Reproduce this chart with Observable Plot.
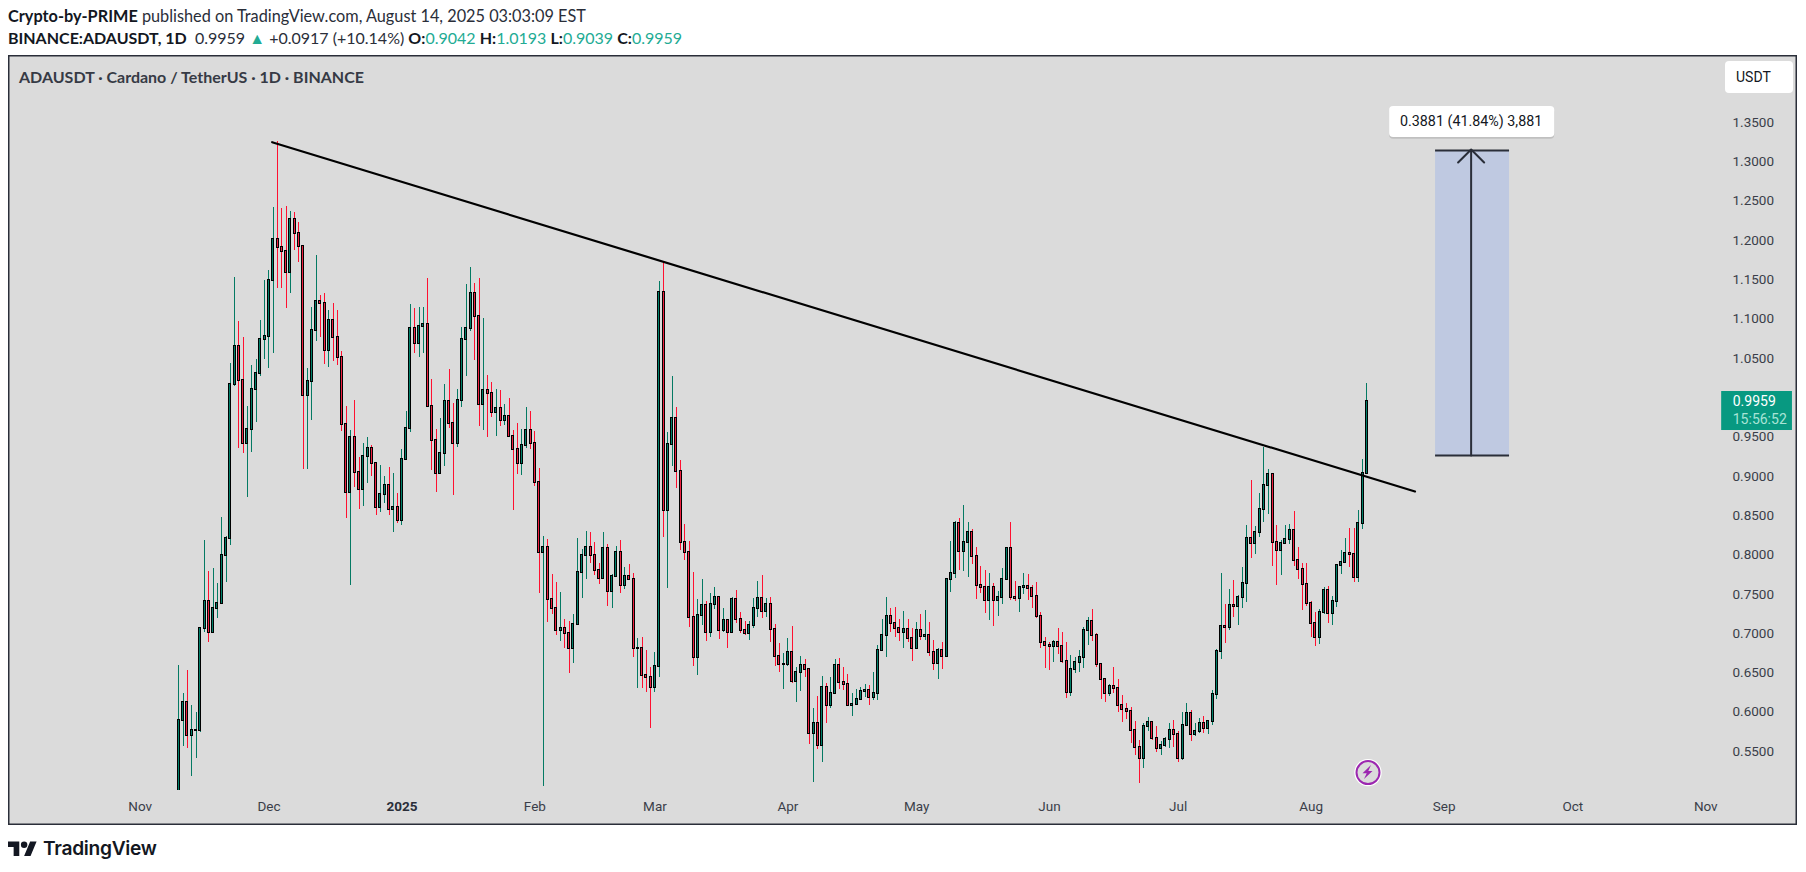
<!DOCTYPE html>
<html>
<head>
<meta charset="utf-8">
<script src="https://cdn.jsdelivr.net/npm/d3@7"></script>
<script src="https://cdn.jsdelivr.net/npm/@observablehq/plot@0.6"></script>
<style>
  html, body { margin: 0; background: #fff; }
  #page { position: relative; width: 1806px; height: 872px; overflow: hidden; font-family: Lato, sans-serif; color: #2a2e39; }
  .line { position: absolute; left: 8px; white-space: pre; line-height: 20px; }
  .line b { color: #131722; font-weight: 700; }
  .teal { color: #22ab94; }
  #pane { position: absolute; left: 8px; top: 55px; width: 1789px; height: 770px; background: #dbdbdb; box-shadow: inset 0 0 0 1.5px #2a2e39; }
  #pane svg { display: block; }
  #paneTitle { position: absolute; left: 11px; top: 12px; font-size: 16px; font-weight: 700; color: #363a45; white-space: pre; line-height: 20px; }
  #unit { position: absolute; left: 1717px; top: 6px; width: 68px; height: 32px; background: #fff; border-radius: 4px; font: 14px/32px Roboto, sans-serif; color: #131722; text-indent: 11px; }
  #logo { position: absolute; left: 8px; top: 838px; }
  #logoText { position: absolute; left: 43px; top: 834px; font: 600 19.2px/28px Inter, sans-serif; color: #131722; letter-spacing: -0.3px; }
</style>
</head>
<body>
<div id="page">
  <div class="line" style="top:6px;font-size:16.3px"><b>Crypto-by-PRIME</b> published on TradingView.com, August 14, 2025 03:03:09 EST</div>
  <div class="line" style="top:28px;font-size:16px"><b>BINANCE:ADAUSDT, 1D</b>  0.9959 <span class="teal">▲</span> +0.0917 (+10.14%) <b>O:</b><span class="teal">0.9042</span> <b>H:</b><span class="teal">1.0193</span> <b>L:</b><span class="teal">0.9039</span> <b>C:</b><span class="teal">0.9959</span></div>
  <div id="pane">
    <div id="paneTitle">ADAUSDT · Cardano / TetherUS · 1D · BINANCE</div>
    <div id="unit">USDT</div>
  </div>
  <svg id="logo" width="29" height="23" viewBox="0 0 36 28" fill="#131722"><path d="M14 22H7V11H0V4h14v18zM28 22h-8l7.5-18h8L28 22z"></path><circle cx="20" cy="8" r="4"></circle></svg>
  <div id="logoText">TradingView</div>
</div>
<script>
// velas diarias, desde el 10 nov 2024 hasta el 14 ago 2025
const firstDay = new Date(Date.UTC(2024, 10, 10))
const firstOpen = 0.495

const closes = [
  .5898,.6127,.5707,.5779,.5780,.7068,.7411,.7017,.7322,.7386,
  .7997,.8213,1.0172,1.0655,1.0223,.9430,.9599,1.0108,1.0312,1.0744,
  1.0782,1.1495,1.2016,1.1914,1.1863,1.1596,1.2270,1.2092,1.1927,1.0032,
  1.0210,1.0859,1.1227,1.1202,1.0604,1.0986,1.0770,1.0515,.9667,.8798,
  .9498,.9052,.8836,.9256,.9358,.9167,.8607,.8772,.8887,.8582,
  .8607,.8442,.9218,.9612,1.0884,1.0702,1.0909,1.0935,.9892,.9464,
  .9040,.9294,.9955,.9676,.9430,.9968,1.0744,1.0884,1.1329,1.1037,
  .9926,1.0095,1.0057,.9824,.9866,.9718,.9765,.9519,.9345,.9167,
  .9396,.9587,.9421,.8934,.8043,.8107,.7437,.7322,.7043,.7068,
  .7004,.6814,.7119,.7780,.7997,.8098,.7997,.7806,.7704,.8086,
  .7538,.7729,.8035,.7615,.7729,.7691,.6814,.6822,.6470,.6445,
  .6326,.6585,1.1342,.8569,.9409,.9739,.9065,.8170,.8043,.7208,
  .6708,.7233,.7361,.7026,.7373,.7462,.7043,.7170,.7017,.7437,
  .7182,.7043,.7004,.7106,.7322,.7450,.7284,.7373,.7055,.6720,
  .6610,.6610,.6763,.6394,.6508,.6597,.6546,.5732,.5860,.5580,
  .6318,.6089,.6241,.6597,.6381,.6356,.6089,.6101,.6165,.6267,
  .6279,.6199,.6241,.6788,.6979,.7221,.7132,.7068,.7026,.7055,
  .6949,.6814,.7043,.6975,.6983,.6763,.6623,.6788,.6712,.7691,
  .7768,.8403,.8047,.8162,.8289,.7984,.7615,.7590,.7424,.7590,
  .7424,.7462,.7691,.8086,.7462,.7460,.7590,.7602,.7577,.7475,
  .7221,.6890,.6852,.6850,.6890,.6839,.6648,.6254,.6546,.6635,
  .6699,.7043,.7157,.6979,.6610,.6419,.6241,.6330,.6305,.6089,
  .6038,.6012,.5771,.5554,.5414,.5821,.5872,.5669,.5542,.5580,
  .5656,.5771,.5720,.5414,.5834,.5987,.5720,.5758,.5860,.5796,
  .5885,.6228,.6775,.7094,.7090,.7361,.7352,.7462,.7640,.8213,
  .8149,.8289,.8582,.8887,.9027,.8162,.8060,.8149,.8200,.8315,
  .7933,.7818,.7628,.7386,.7132,.6962,.7272,.7551,.7259,.7411,
  .7869,.7907,.8022,.8018,.7725,.8403,.9040,.9959
]

const highs = [
  .6602,.6241,.6538,.6089,.5999,.7068,.8192,.7797,.7835,.7645,
  .8484,.8238,1.0439,1.1533,1.0973,1.0770,.9896,1.0413,1.0494,1.0986,
  1.1499,1.1626,1.2423,1.3263,1.2410,1.2436,1.2372,1.2359,1.2232,1.1927,
  1.0379,1.1160,1.1813,1.1304,1.1329,1.1113,1.1202,1.1113,1.0591,.9896,
  .9591,.9972,.9252,.9421,.9498,.9400,.9167,.9146,.9006,.9116,
  .9040,.8785,.9345,.9832,1.1193,1.1143,1.1155,1.1155,1.1520,1.0236,
  .9599,.9739,1.0172,1.0367,.9930,1.0108,1.0896,1.1448,1.1660,1.1456,
  1.1520,1.1011,1.0286,1.0197,1.0108,1.0095,.9917,.9993,.9591,.9676,
  .9599,.9879,.9832,.9578,.9103,.8242,.8204,.7759,.7653,.7530,
  .7182,.7161,.7250,.8213,.8077,.8306,.8293,.8170,.7895,.8289,
  .8141,.7759,.8120,.8192,.7844,.7886,.7768,.6941,.6954,.6792,
  .6572,.6763,1.1486,1.1745,.9561,1.0278,.9879,.9209,.8395,.8179,
  .7780,.7441,.7691,.7416,.7513,.7590,.7479,.7322,.7182,.7462,
  .7551,.7276,.7161,.7161,.7450,.7666,.7746,.7450,.7462,.7123,
  .6881,.6750,.6941,.7098,.6580,.6716,.6678,.6546,.6055,.6207,
  .6462,.6368,.6453,.6678,.6691,.6576,.6487,.6241,.6296,.6322,
  .6356,.6347,.6513,.6852,.7187,.7466,.7322,.7339,.7187,.7289,
  .7187,.7077,.7144,.7250,.7301,.7144,.6920,.6814,.6890,.7704,
  .8179,.8429,.8471,.8637,.8416,.8327,.8098,.7857,.7806,.7768,
  .7640,.7539,.7831,.8098,.8416,.7666,.7598,.7768,.7755,.7615,
  .7657,.7272,.6954,.6890,.6920,.7068,.7017,.6890,.6725,.6703,
  .6792,.7081,.7208,.7310,.7004,.6610,.6419,.6360,.6576,.6419,
  .6220,.6114,.6072,.5885,.5648,.5860,.5936,.5894,.5821,.5631,
  .5681,.5860,.5902,.5762,.6004,.6114,.6029,.5860,.5923,.5953,
  .5902,.6284,.6801,.7768,.7378,.7564,.7683,.7492,.7848,.8378,
  .8955,.8365,.8785,.9370,.9091,.9027,.8378,.8192,.8382,.8391,
  .8561,.8098,.7895,.7895,.7416,.7276,.7310,.7590,.7602,.7475,
  .7882,.8060,.8213,.8340,.8340,.8569,.9218,1.0193
]

const lows = [
  .4900,.5576,.5550,.5194,.5423,.5754,.7026,.6898,.7017,.7204,
  .7386,.7662,.8132,1.0155,.9366,.9302,.8743,.9315,.9697,1.0282,
  1.0498,1.0383,1.0574,1.1401,1.1401,1.1147,1.1338,1.1885,1.1732,.9095,
  .9095,.9718,1.0727,1.0770,1.0434,1.0396,1.0472,1.0422,.9578,.8476,
  .7619,.8870,.8590,.8624,.8921,.9006,.8510,.8552,.8666,.8510,
  .8298,.8403,.8382,.9218,.9570,1.0574,1.0524,1.0574,.9892,.9082,
  .8807,.9040,.9137,.9616,.8764,.9379,.9887,1.0278,1.0854,1.0481,
  .9642,.9591,.9506,.9760,.9519,.9646,.9654,.9506,.8573,.9031,
  .9018,.9366,.9349,.8883,.7522,.5067,.7153,.7250,.6983,.6907,
  .6822,.6504,.6631,.7110,.7458,.7695,.7895,.7747,.7628,.7704,
  .7356,.7331,.7717,.7513,.7564,.7683,.6708,.6313,.6313,.6263,
  .5805,.6263,.6453,.8234,.7585,.9137,.8857,.8064,.7937,.7089,
  .6589,.6474,.7110,.6907,.6962,.7314,.6932,.7017,.6822,.7017,
  .7132,.7013,.6987,.6920,.7068,.7212,.7195,.7208,.6894,.6589,
  .6512,.6296,.6589,.6377,.6131,.6271,.6449,.5597,.5118,.5533,
  .5368,.5868,.6055,.6233,.6296,.6284,.6080,.5953,.6093,.6156,
  .6194,.6093,.6156,.6156,.6788,.6703,.7022,.6962,.6907,.6822,
  .6898,.6657,.6814,.6920,.6920,.6716,.6538,.6428,.6555,.6712,
  .7534,.7712,.7810,.7797,.7725,.7886,.7441,.7513,.7267,.7174,
  .7102,.7225,.7373,.7683,.7428,.7420,.7276,.7505,.7428,.7331,
  .7195,.6822,.6559,.6538,.6640,.6737,.6631,.6182,.6207,.6504,
  .6513,.6559,.6856,.6907,.6580,.6169,.6131,.6212,.6241,.6004,
  .5881,.5910,.5605,.5453,.5105,.5296,.5766,.5648,.5499,.5457,
  .5554,.5542,.5563,.5368,.5393,.5834,.5639,.5694,.5732,.5732,
  .5724,.5838,.6169,.6678,.6886,.7047,.7216,.7110,.7331,.7407,
  .7963,.8014,.8234,.8421,.8522,.7861,.7619,.7747,.8141,.8141,
  .7861,.7695,.7301,.7352,.6958,.6843,.6869,.7250,.7136,.7110,
  .7339,.7759,.7895,.7848,.7657,.7657,.8336,.9039
]

const priceTicks = [.55,.6,.65,.7,.75,.8,.85,.9,.95,1.05,1.1,1.15,1.2,1.25,1.3,1.35]
const monthNames = ['Nov','Dec','Feb','Mar','Apr','May','Jun','Jul','Aug','Sep','Oct','Nov']
const monthDays = ['2024-11-01','2024-12-01','2025-02-01','2025-03-01','2025-04-01','2025-05-01','2025-06-01','2025-07-01','2025-08-01','2025-09-01','2025-10-01','2025-11-01'].map(d => new Date(d))
const yearDay = [new Date('2025-01-01')]

const trendDates = [new Date('2024-12-01T18:00Z'), new Date('2025-08-25T05:00Z')]
const trendPrices = [1.3258, 0.8815]

const day = s => new Date(s)

// armamos las velas, cada apertura es el cierre anterior
const candles = closes.map((close, i) => ({
  date: d3.utcDay.offset(firstDay, i),
  open: i === 0 ? firstOpen : closes[i - 1],
  close,
  high: highs[i],
  low: lows[i]
}))
candles[277].open = 0.9042
const up = candles.filter(d => d.close >= d.open)
const down = candles.filter(d => d.close < d.open)

const box = (x1, x2, y1, y2, options) =>
  Plot.rect([{x1: day(x1), x2: day(x2), y1, y2}], {x1: 'x1', x2: 'x2', y1: 'y1', y2: 'y2', ...options})
const label = (text, x, y, options) =>
  Plot.text([text], {x: () => day(x), y: () => y, text: d => d, ...options})

const wicks = (data, stroke) => Plot.ruleX(data, {
  x: 'date', y1: 'low', y2: 'high', stroke, strokeWidth: 1, clip: true, shapeRendering: 'crispEdges'
})
const bodies = (data, fill) => Plot.rect(data, {
  x1: 'date', x2: 'date', y1: 'open', y2: 'close',
  insetLeft: -1, insetRight: -1, insetTop: -0.5, insetBottom: -0.5,
  fill, stroke: '#000', strokeWidth: 1, clip: true, shapeRendering: 'crispEdges'
})

let chart = Plot.plot({
  width: 1789,
  height: 770,
  marginTop: 0,
  marginBottom: 35,
  marginLeft: 0,
  marginRight: 72,
  style: {background: 'transparent', fontFamily: 'Roboto, sans-serif', fontSize: '13.5px', overflow: 'visible'},
  x: {type: 'utc', domain: [new Date('2024-10-01T06:43Z'), new Date('2025-11-05T14:24Z')]},
  y: {domain: [0.5012, 1.4361]},
  marks: [
    // caja de medicion
    box('2025-08-30T00:00Z', '2025-09-16T06:00Z', 0.9273, 1.3153, {fill: '#bfc9e1'}),
    Plot.ruleY([0.9273, 1.3153], {
      x1: () => day('2025-08-30T00:00Z'), x2: () => day('2025-09-16T06:00Z'),
      stroke: '#2a2e39', strokeWidth: 2
    }),
    wicks(up, '#047a63'),
    wicks(down, '#ff1030'),
    bodies(up, '#00806a'),
    bodies(down, '#ee2040'),
    Plot.line(trendDates.map((date, i) => ({date, price: trendPrices[i]})), {
      x: 'date', y: 'price', stroke: '#000', strokeWidth: 2.2
    }),
    Plot.arrow([{x: day('2025-09-07T07:00Z')}], {
      x1: 'x', x2: 'x', y1: () => 0.9273, y2: () => 1.3165,
      stroke: '#2a2e39', strokeWidth: 2, headLength: 13.8, headAngle: 90
    }),
    // etiqueta de la medicion
    box('2025-08-19T07:00Z', '2025-09-26T19:00Z', 1.3690, 1.3295, {fill: '#000', fillOpacity: 0.12, rx: 4}),
    box('2025-08-19T07:00Z', '2025-09-26T19:00Z', 1.3712, 1.3318, {fill: '#fff', rx: 4}),
    label('0.3881 (41.84%) 3,881', '2025-09-07T07:00Z', 1.3522, {fill: '#131722', fontSize: 14.3}),
    // precio actual
    box('2025-11-04T17:00Z', '2025-11-21T05:00Z', 0.9591, 1.0087, {fill: '#089981'}),
    label('0.9959', '2025-11-07T07:00Z', 0.9960, {fill: '#fff', textAnchor: 'start', fontSize: 14}),
    label('15:56:52', '2025-11-07T07:00Z', 0.9731, {fill: '#a8e4d6', textAnchor: 'start', fontSize: 14}),
    // icono
    Plot.dot([{date: day('2025-08-14T06:00Z')}], {x: 'date', y: () => 0.5240, r: 13.7, fill: '#fff'}),
    Plot.dot([{date: day('2025-08-14T06:00Z')}], {x: 'date', y: () => 0.5240, r: 11.5, fill: '#dbdbdb', stroke: '#9c27b0', strokeWidth: 2}),
    Plot.axisY(priceTicks, {anchor: 'right', tickSize: 0, tickPadding: 7, dy: -0.7, tickFormat: d => d.toFixed(4), color: '#3a3e49', label: null}),
    Plot.axisX(monthDays, {anchor: 'bottom', tickSize: 0, tickPadding: 11, tickFormat: (d, i) => monthNames[i], color: '#3a3e49', label: null}),
    Plot.axisX(yearDay, {anchor: 'bottom', tickSize: 0, tickPadding: 11, tickFormat: () => '2025', fontWeight: 'bold', color: '#2a2e39', label: null})
  ]
})

// el rayo del icono, ubicado con las escalas del grafico
d3.select(chart).append('path')
  .attr('d', 'M3.5 -7 L-5 1.2 L-0.8 1.2 L-3.5 7 L5 -1.2 L0.8 -1.2 Z')
  .attr('fill', '#9c27b0')
  .attr('transform', `translate(${chart.scale('x').apply(day('2025-08-14T06:00Z'))},${chart.scale('y').apply(0.5240)})`)

d3.select('#pane').insert(() => chart, ':first-child')
d3.select(chart).style('position', 'absolute').style('left', 0).style('top', 0)
</script>
</body>
</html>
